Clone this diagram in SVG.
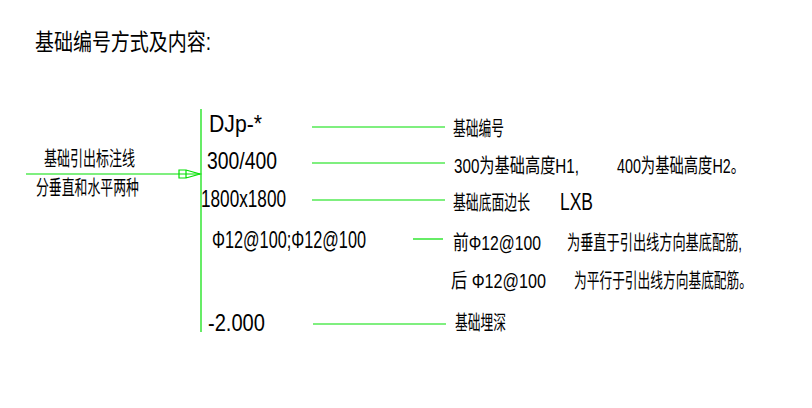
<svg xmlns="http://www.w3.org/2000/svg" width="812" height="408" viewBox="0 0 812 408">
<style>
text{font-family:"Liberation Sans","Noto Sans CJK SC",sans-serif;fill:#000;font-size:16px;transform-box:fill-box;transform-origin:50% 85%;transform:scaleY(1.45)}
.cn{font-size:14px}
.g{stroke:#00e000;stroke-width:1.2;fill:none}
</style>
<rect width="812" height="408" fill="#fff"/>
<text x="35" y="50" font-size="20" textLength="176" lengthAdjust="spacingAndGlyphs">基础编号方式及内容:</text>
<g id="connectors">
<line class="g" x1="201" y1="109" x2="201" y2="332"/>
<line class="g" x1="26" y1="174" x2="200" y2="174"/>
<path class="g" d="M179,170 L186,170 L200,174 L186,178 L179,178 Z M186,170 L186,178"/>
<line class="g" x1="312" y1="127" x2="445" y2="127"/>
<line class="g" x1="312" y1="163" x2="445" y2="163"/>
<line class="g" x1="312" y1="200" x2="445" y2="200"/>
<line class="g" x1="413" y1="239" x2="443" y2="239"/>
<line class="g" x1="313" y1="324" x2="446" y2="324"/>
</g>
<g id="leader-label">
<text x="44" y="166" class="cn" textLength="91" lengthAdjust="spacingAndGlyphs">基础引出标注线</text>
<text x="36" y="195" class="cn" textLength="103" lengthAdjust="spacingAndGlyphs">分垂直和水平两种</text>
</g>
<g id="codes">
<text x="209" y="132" textLength="53" lengthAdjust="spacingAndGlyphs">DJp-*</text>
<text x="207" y="169" textLength="70" lengthAdjust="spacingAndGlyphs">300/400</text>
<text x="201" y="207" textLength="85" lengthAdjust="spacingAndGlyphs">1800x1800</text>
<text x="212" y="248" textLength="154" lengthAdjust="spacingAndGlyphs">Φ12@100;Φ12@100</text>
<text x="208" y="331" textLength="57" lengthAdjust="spacingAndGlyphs">-2.000</text>
</g>
<g id="descriptions">
<text x="453" y="136" class="cn" textLength="51" lengthAdjust="spacingAndGlyphs">基础编号</text>
<text x="454" y="173" class="cn" textLength="125" lengthAdjust="spacingAndGlyphs">300为基础高度H1,</text>
<text x="617" y="173" class="cn" textLength="128" lengthAdjust="spacingAndGlyphs">400为基础高度H2。</text>
<text x="453" y="210" class="cn" textLength="77" lengthAdjust="spacingAndGlyphs">基础底面边长</text>
<text x="560" y="210" textLength="33" lengthAdjust="spacingAndGlyphs">LXB</text>
<text x="453" y="250" class="cn" textLength="88" lengthAdjust="spacingAndGlyphs">前Φ12@100</text>
<text x="567" y="250" class="cn" textLength="175" lengthAdjust="spacingAndGlyphs">为垂直于引出线方向基底配筋,</text>
<text x="451" y="288" class="cn" textLength="95" lengthAdjust="spacingAndGlyphs">后 Φ12@100</text>
<text x="574" y="288" class="cn" textLength="178" lengthAdjust="spacingAndGlyphs">为平行于引出线方向基底配筋。</text>
<text x="455" y="330" class="cn" textLength="51" lengthAdjust="spacingAndGlyphs">基础埋深</text>
</g>
</svg>
